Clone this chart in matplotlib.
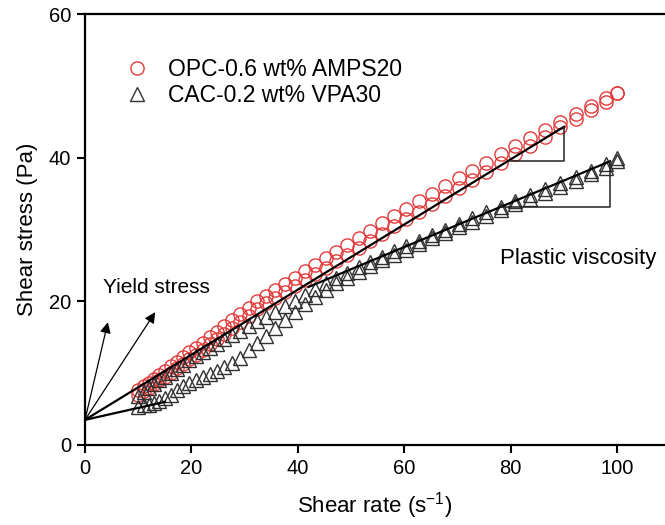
import matplotlib
matplotlib.use("Agg")
import matplotlib.pyplot as plt

plt.rcParams['font.family'] = ['Liberation Sans', 'DejaVu Sans']

# shear rate steps (s^-1), shared by both ramps
rate = [10.0, 11.0, 12.0, 13.0, 14.0, 15.0, 16.1, 17.2, 18.4, 19.6, 20.8, 22.1,
        23.4, 24.8, 26.2, 27.7, 29.2, 30.8, 32.4, 34.1, 35.8, 37.6, 39.4, 41.3,
        43.2, 45.2, 47.2, 49.3, 51.4, 53.6, 55.8, 58.1, 60.4, 62.8, 65.2, 67.7,
        70.2, 72.8, 75.4, 78.1, 80.8, 83.6, 86.4, 89.3, 92.2, 95.1, 98.0, 100.0]

# OPC-0.6 wt% AMPS20, shear stress (Pa)
opc_down = [7.6, 8.15, 8.7, 9.25, 9.8, 10.35, 10.95, 11.55, 12.2, 12.9, 13.55, 14.25,
            15.0, 15.75, 16.5, 17.35, 18.2, 19.1, 20.0, 20.8, 21.6, 22.45, 23.3, 24.2,
            25.05, 26.0, 26.9, 27.9, 28.85, 29.85, 30.85, 31.9, 32.9, 33.95, 34.95, 36.05,
            37.1, 38.2, 39.3, 40.45, 41.6, 42.7, 43.85, 45.0, 46.1, 47.2, 48.25, 49.0]
opc_up = [7.0, 7.5, 8.0, 8.5, 9.0, 9.5, 10.05, 10.65, 11.3, 11.95, 12.55, 13.25,
          14.0, 14.75, 15.5, 16.3, 17.1, 18.0, 18.95, 19.75, 20.5, 21.3, 22.1, 23.0,
          23.8, 24.7, 25.55, 26.5, 27.4, 28.4, 29.4, 30.45, 31.45, 32.5, 33.55, 34.65,
          35.75, 36.9, 38.05, 39.25, 40.45, 41.65, 42.9, 44.2, 45.4, 46.6, 47.8, 49.0]

# CAC-0.2 wt% VPA30, shear stress (Pa)
cac_down = [6.8, 7.4, 8.0, 8.5, 9.0, 9.5, 10.05, 10.6, 11.2, 11.8, 12.35, 12.95,
            13.5, 14.1, 14.7, 15.3, 15.9, 16.55, 17.2, 17.85, 18.55, 19.3, 20.0, 20.85,
            21.7, 22.5, 23.25, 24.0, 24.75, 25.5, 26.2, 26.95, 27.7, 28.45, 29.2, 30.0,
            30.8, 31.6, 32.4, 33.2, 34.0, 34.8, 35.6, 36.45, 37.3, 38.2, 39.1, 40.0]
cac_up = [5.3, 5.5, 5.6, 5.8, 6.1, 6.5, 7.0, 7.6, 8.2, 8.7, 9.1, 9.5,
          9.9, 10.3, 10.8, 11.4, 12.1, 13.2, 14.2, 15.2, 16.3, 17.4, 18.5, 19.6,
          20.6, 21.6, 22.5, 23.3, 24.1, 24.9, 25.7, 26.5, 27.2, 28.0, 28.75, 29.5,
          30.3, 31.1, 31.9, 32.7, 33.5, 34.3, 35.1, 35.95, 36.8, 37.7, 38.6, 39.6]

# Bingham fit lines and slope triangles
opc_fit_x = [0, 90]
opc_fit_y = [3.5, 44.3]
cac_fit_x = [42, 98.7]
cac_fit_y = [22.0, 39.5]
cac_start_x = [0, 15]
cac_start_y = [3.5, 6.0]
opc_tri_x = [79.7, 90, 90]
opc_tri_y = [39.6, 39.6, 44.3]
cac_tri_x = [78, 98.7, 98.7]
cac_tri_y = [33.1, 33.1, 39.5]

# yield stress arrows: tail at intercept, heads
arrow_tail = (0, 3.5)
arrow_heads = [(4.3, 17.1), (13.2, 18.5)]

fig = plt.figure(figsize=(6.65, 5.25), dpi=100)
ax = fig.add_axes([85 / 665, 80 / 525, 580 / 665, 431 / 525])

red = '#e23a3a'
grey = '#303030'
ms = 9.5
ax.plot(rate, opc_up, 'o', mfc='none', mec=red, ms=ms, mew=1.0, zorder=2,
        label='OPC-0.6 wt% AMPS20')
ax.plot(rate, opc_down, 'o', mfc='none', mec=red, ms=ms, mew=1.0, zorder=2)
ax.plot(rate, cac_up, '^', mfc='none', mec=grey, ms=ms, mew=1.0, zorder=2,
        label='CAC-0.2 wt% VPA30')
ax.plot(rate, cac_down, '^', mfc='none', mec=grey, ms=ms, mew=1.0, zorder=2)

ax.plot(opc_fit_x, opc_fit_y, color='black', lw=1.6, zorder=3)
ax.plot(cac_fit_x, cac_fit_y, color='black', lw=1.6, zorder=3)
ax.plot(cac_start_x, cac_start_y, color='black', lw=1.6, zorder=3)
ax.plot(opc_tri_x, opc_tri_y, color='#222222', lw=1.1, zorder=3)
ax.plot(cac_tri_x, cac_tri_y, color='#222222', lw=1.1, zorder=3)

for hx, hy in arrow_heads:
    ax.annotate('', xy=(hx, hy), xytext=arrow_tail,
                arrowprops=dict(arrowstyle='-|>', color='black', lw=0.9,
                                mutation_scale=16, shrinkA=0, shrinkB=0))

ax.text(3.4, 21.9, 'Yield stress', fontsize=15, va='center', ha='left')
ax.text(78, 26.0, 'Plastic viscosity', fontsize=16, va='center', ha='left')

ax.set_xlim(0, 109)
ax.set_ylim(0, 60)
ax.set_xticks([0, 20, 40, 60, 80, 100])
ax.set_yticks([0, 20, 40, 60])
ax.tick_params(direction='out', length=6, width=1.5, labelsize=14.5, pad=4)
for side in ['left', 'bottom', 'top']:
    ax.spines[side].set_linewidth(1.6)
ax.spines['right'].set_visible(False)

ax.set_xlabel('Shear rate (s$^{\\mathregular{-1}}$)', fontsize=16, labelpad=9)
ax.set_ylabel('Shear stress (Pa)', fontsize=16, labelpad=8)

leg = ax.legend(loc='upper left', bbox_to_anchor=(0.05, 0.92), frameon=False,
                fontsize=16.5, handlelength=1.2, handletextpad=0.75,
                labelspacing=0.15, borderaxespad=0)

fig.savefig('out.png', dpi=100)
